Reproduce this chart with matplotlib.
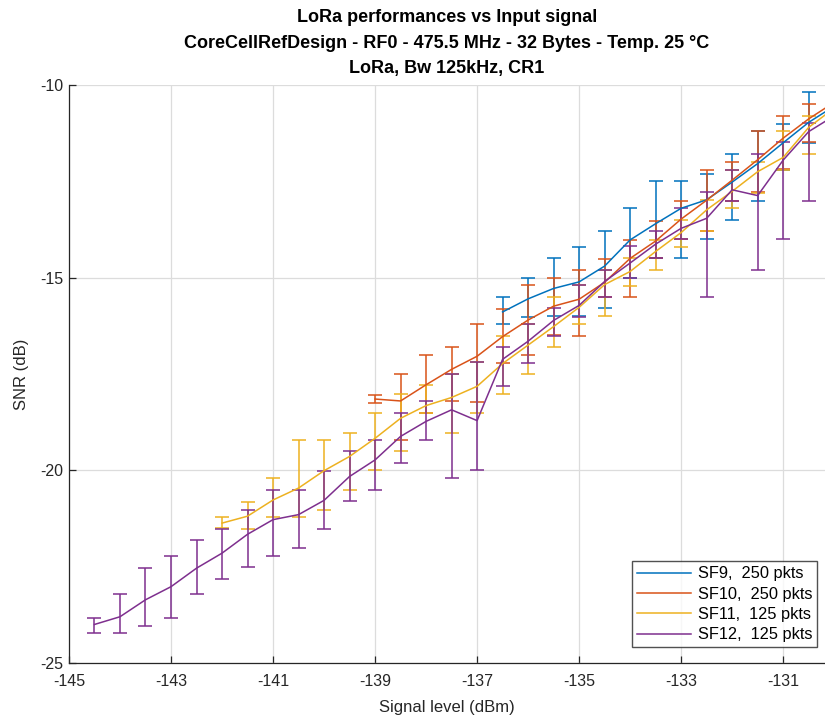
import matplotlib
matplotlib.use("Agg")
import matplotlib.pyplot as plt
from matplotlib.lines import Line2D
import numpy as np

plt.rcParams['font.family'] = ['Liberation Sans', 'DejaVu Sans']

# ---- data ----
labels = ["SF9,  250 pkts", "SF10,  250 pkts", "SF11,  125 pkts", "SF12,  125 pkts"]
colors = ["#0072BD", "#D95319", "#EDB120", "#7E2F8E"]

sf9_x = [-136.5, -136, -135.5, -135, -134.5, -134, -133.5, -133, -132.5, -132, -131.5, -131, -130.5, -130]
sf9_y = [-15.89, -15.55, -15.28, -15.11, -14.70, -14.02, -13.60, -13.20, -12.98, -12.52, -12.04, -11.50, -10.97, -10.55]
sf9_hi = [-15.5, -15.0, -14.5, -14.2, -13.8, -13.2, -12.5, -12.5, -12.3, -11.8, -11.2, -11.0, -10.17, -10.0]
sf9_lo = [-16.21, -16.01, -16.0, -16.0, -15.8, -15.0, -14.5, -14.5, -13.99, -13.5, -13.0, -12.2, -11.5, -11.0]

sf10_x = [-139, -138.5, -138, -137.5, -137, -136.5, -136, -135.5, -135, -134.5, -134, -133.5, -133, -132.5, -132, -131.5, -131, -130.5, -130]
sf10_y = [-18.15, -18.20, -17.78, -17.38, -17.04, -16.53, -16.10, -15.74, -15.56, -15.12, -14.50, -14.05, -13.48, -12.99, -12.47, -11.94, -11.38, -10.88, -10.45]
sf10_hi = [-18.05, -17.5, -17.01, -16.81, -16.21, -15.81, -15.2, -15.0, -14.8, -14.51, -14.02, -13.52, -13.02, -12.2, -11.99, -11.19, -10.8, -10.49, -10.1]
sf10_lo = [-18.25, -19.21, -18.52, -18.21, -18.22, -17.21, -17.01, -16.5, -16.52, -15.5, -15.5, -14.5, -14.0, -13.8, -13.0, -12.79, -12.18, -11.49, -10.9]

sf11_x = [-142, -141.5, -141, -140.5, -140, -139.5, -139, -138.5, -138, -137.5, -137, -136.5, -136, -135.5, -135, -134.5, -134, -133.5, -133, -132.5, -132, -131.5, -131, -130.5, -130]
sf11_y = [-21.37, -21.19, -20.77, -20.46, -20.01, -19.64, -19.17, -18.65, -18.32, -18.11, -17.82, -17.23, -16.75, -16.27, -15.77, -15.18, -14.84, -14.32, -13.83, -13.24, -12.76, -12.25, -11.88, -11.10, -10.60]
sf11_hi = [-21.21, -20.82, -20.21, -19.22, -19.22, -19.02, -18.52, -18.02, -17.78, -17.5, -17.2, -16.52, -16.2, -15.5, -15.2, -14.8, -14.5, -14.02, -13.5, -12.98, -12.2, -11.99, -11.19, -10.8, -10.3]
sf11_lo = [-21.5, -21.51, -21.21, -21.21, -21.02, -20.51, -20.0, -19.51, -18.52, -19.02, -18.51, -18.02, -17.51, -16.81, -16.21, -16.0, -15.22, -14.81, -14.2, -13.8, -13.19, -12.81, -12.2, -11.8, -11.0]

sf12_x = [-144.5, -144, -143.5, -143, -142.5, -142, -141.5, -141, -140.5, -140, -139.5, -139, -138.5, -138, -137.5, -137, -136.5, -136, -135.5, -135, -134.5, -134, -133.5, -133, -132.5, -132, -131.5, -131, -130.5, -130]
sf12_y = [-24.0, -23.8, -23.36, -23.02, -22.54, -22.15, -21.66, -21.28, -21.15, -20.78, -20.16, -19.73, -19.12, -18.73, -18.43, -18.71, -17.12, -16.65, -16.11, -15.72, -15.10, -14.62, -14.13, -13.72, -13.46, -12.72, -12.87, -11.95, -11.21, -10.80]
sf12_hi = [-23.83, -23.22, -22.53, -22.22, -21.82, -21.51, -21.02, -20.51, -20.51, -20.01, -19.51, -19.21, -18.52, -18.21, -17.5, -17.2, -16.8, -16.2, -15.8, -15.2, -14.79, -14.19, -13.8, -13.19, -12.79, -12.2, -11.8, -11.49, -10.99, -10.5]
sf12_lo = [-24.22, -24.22, -24.03, -23.83, -23.22, -22.82, -22.52, -22.22, -22.01, -21.51, -20.8, -20.51, -19.81, -19.21, -20.21, -20.0, -17.81, -17.21, -16.51, -16.02, -15.5, -15.0, -14.5, -14.0, -15.5, -13.0, -14.79, -14.0, -13.0, -12.0]

series = [
    (sf9_x, sf9_y, sf9_lo, sf9_hi),
    (sf10_x, sf10_y, sf10_lo, sf10_hi),
    (sf11_x, sf11_y, sf11_lo, sf11_hi),
    (sf12_x, sf12_y, sf12_lo, sf12_hi),
]

title_lines = ["LoRa performances vs Input signal",
               "CoreCellRefDesign - RF0 - 475.5 MHz - 32 Bytes - Temp. 25 °C",
               "LoRa, Bw 125kHz, CR1"]
xticks = [-145, -143, -141, -139, -137, -135, -133, -131]
yticks = [-25, -20, -15, -10]

# ---- figure ----
fig = plt.figure(figsize=(8.25, 7.19), dpi=100)
ax = fig.add_axes([0.0836, 0.0779, 0.9164, 0.8039])

for (x, y, lo, hi), c, lab in zip(series, colors, labels):
    x = np.array(x); y = np.array(y); lo = np.array(lo); hi = np.array(hi)
    yerr = np.vstack([y - lo, hi - y])
    ax.errorbar(x, y, yerr=yerr, color=c, lw=1.1, elinewidth=1.1,
                capsize=5.3, capthick=1.1, label=lab)

ax.set_xlim(-145, -130.18)
ax.set_ylim(-25, -10)
ax.set_xticks(xticks)
ax.set_xticklabels([str(t) for t in xticks])
ax.set_yticks(yticks)
ax.set_yticklabels([str(t) for t in yticks])

ax.grid(True, color="#dcdcdc", lw=0.9)
ax.set_axisbelow(True)
for s in ["top", "right"]:
    ax.spines[s].set_visible(False)
for s in ["left", "bottom"]:
    ax.spines[s].set_color("#262626")
    ax.spines[s].set_linewidth(0.9)
ax.tick_params(direction="in", length=5, width=0.9, colors="#262626", labelsize=11.5)
ax.tick_params(axis="x", pad=8)
ax.tick_params(axis="y", pad=4)

ax.set_xlabel("Signal level (dBm)", fontsize=12, color="#262626", labelpad=8)
ax.set_ylabel("SNR (dB)", fontsize=12, color="#262626", labelpad=8)

fig.text(0.5418, 0.976, title_lines[0], ha="center", va="center", fontsize=13, fontweight="bold")
fig.text(0.5418, 0.940, title_lines[1], ha="center", va="center", fontsize=13, fontweight="bold")
fig.text(0.5418, 0.905, title_lines[2], ha="center", va="center", fontsize=13, fontweight="bold")

hl = [Line2D([], [], color=c, lw=1.1) for c in colors]
leg = ax.legend(hl, labels, loc="lower right", bbox_to_anchor=(0.99, 0.027),
                fontsize=11.8, frameon=True, fancybox=False, handlelength=3.3,
                borderpad=0.3, labelspacing=0.33, handletextpad=0.4, borderaxespad=0)
leg.get_frame().set_edgecolor("#262626")
leg.get_frame().set_linewidth(1.0)

fig.savefig("out.png", dpi=100)
